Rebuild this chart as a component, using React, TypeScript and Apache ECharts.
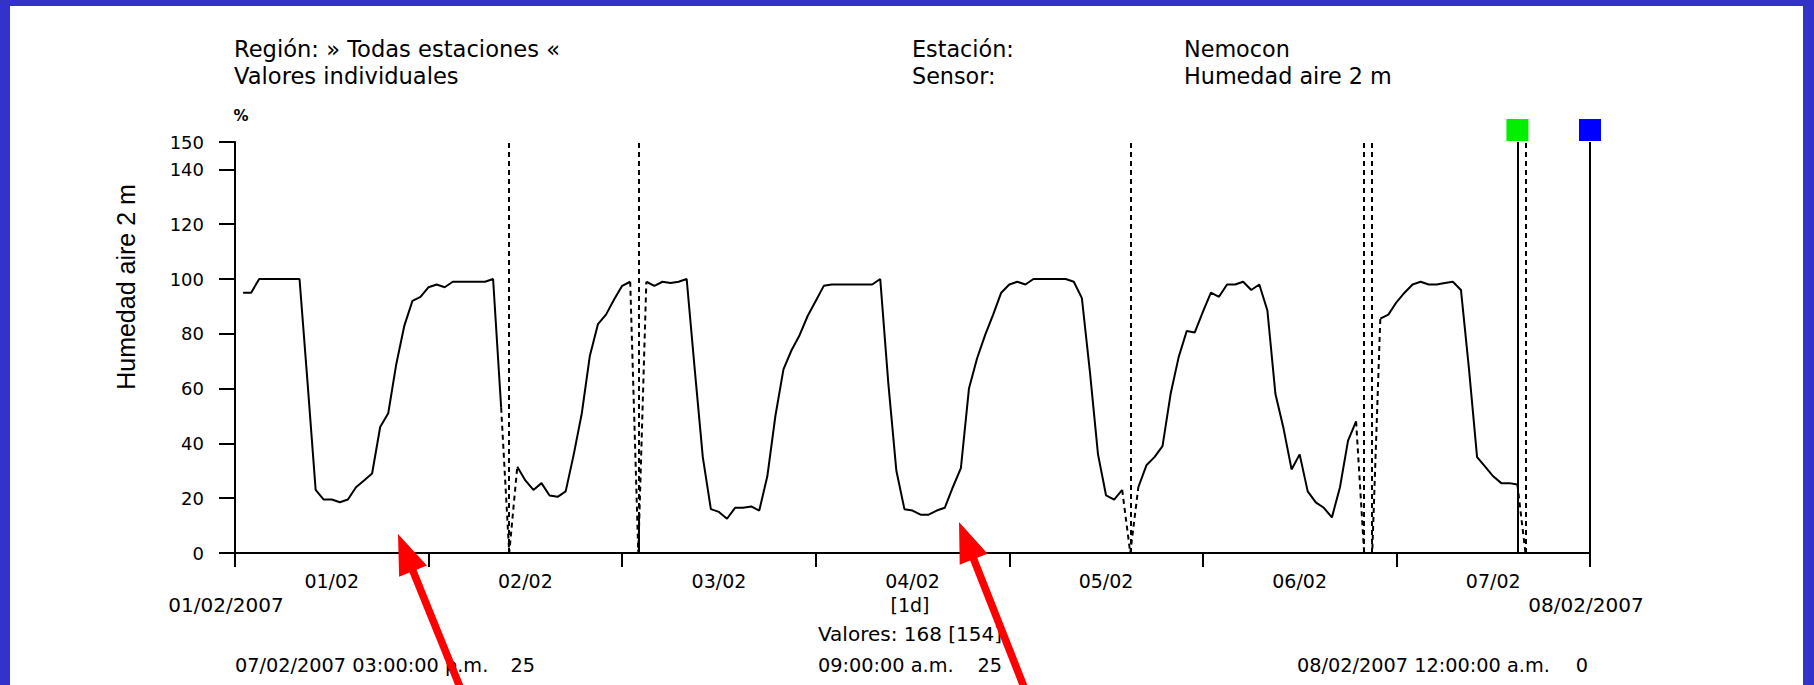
import React, { useEffect, useRef } from "react";
import * as echarts from "echarts";

// ---------- data ----------
const dayLabels = ["01/02", "02/02", "03/02", "04/02", "05/02", "06/02", "07/02"];

// hourly relative humidity, hour 1 (01/02 01:00) .. hour 168 (08/02 00:00); null = missing
const humidity: (number | null)[] = [
  95, 95, 100, 100, 100, 100, 100, 100,
  62, 23, 19.5, 19.5, 18.5, 19.5, 24, 26.5,
  29, 46, 51, 69, 83, 92, 93.5, 97,
  98, 97, 99, 99, 99, 99, 99, 100,
  53, null, 31.5, 26.5, 23, 25.5, 21, 20.5,
  22.5, 36, 51, 72, 83.5, 87, 92.5, 97.5,
  99, null, 99, 97.5, 99, 98.5, 99, 100,
  67, 35, 16, 15, 12.5, 16.5, 16.5, 17,
  15.5, 28, 50, 67, 74, 79.5, 86.5, 92,
  97.5, 98, 98, 98, 98, 98, 98, 100,
  62, 30, 16, 15.5, 14, 14, 15.5, 16.5,
  24, 31, 60, 71, 79.5, 87, 95, 98,
  99, 98, 100, 100, 100, 100, 100, 99,
  93, 66, 36, 21, 19.5, 23, null, 24,
  32, 35, 39, 58, 71.5, 81, 80.5, 88,
  95, 93.5, 98, 98, 99, 96, 98, 88.5,
  58, 45.5, 30.5, 36, 22.5, 18.5, 16.5, 13,
  24, 41, 48, null, null, 85.5, 87, 91.5,
  95, 98, 99, 98, 98, 98.5, 99, 96,
  67, 35, 31.5, 28, 25.5, 25.5, 25, null,
  null, null, null, null, null, null, null, null,
];

// missing hours that the original marks with dashed verticals
const gapHours = [34, 50, 111, 140, 141, 160];
const gapStub = { hour: 50, value: 13 };

const cursorA = { hour: 159, value: 25, stamp: "07/02/2007 03:00:00 p.m.", color: "#00f000" };
const cursorB = { hour: 168, value: 0, stamp: "08/02/2007 12:00:00 a.m.", color: "#0000ff" };
const cursorDiff = { stamp: "09:00:00 a.m.", value: 25 };

const yMin = 0;
const yMax = 150;
const yInterval = 20;
const xMin = 0;
const xMax = 168;
const xInterval = 24;

const headerLeft = ["Región: » Todas estaciones «", "Valores individuales"];
const headerMidKeys = ["Estación:", "Sensor:"];
const headerMidVals = ["Nemocon", "Humedad aire 2 m"];
const yName = "Humedad aire 2 m";
const unit = "%";
const startDate = "01/02/2007";
const endDate = "08/02/2007";
const stepLabel = "[1d]";

// ---------- helpers ----------
function arrowPoints(tip: number[], tail: number[], headLen: number, headHalf: number, shaftHalf: number) {
  const dx = tail[0] - tip[0];
  const dy = tail[1] - tip[1];
  const len = Math.sqrt(dx * dx + dy * dy);
  const ux = dx / len, uy = dy / len;
  const nx = -uy, ny = ux;
  const bx = tip[0] + ux * headLen, by = tip[1] + uy * headLen;
  return [
    [tip[0], tip[1]],
    [bx - nx * headHalf, by - ny * headHalf],
    [bx - nx * shaftHalf, by - ny * shaftHalf],
    [tail[0] - nx * shaftHalf, tail[1] - ny * shaftHalf],
    [tail[0] + nx * shaftHalf, tail[1] + ny * shaftHalf],
    [bx + nx * shaftHalf, by + ny * shaftHalf],
    [bx + nx * headHalf, by + ny * headHalf],
  ];
}

const PIX = '"DejaVu Sans", sans-serif';
const ARIAL = '"Liberation Sans", Arial, sans-serif';

function txt(text: string, x: number, y: number, size: number, align = "left", family = PIX, weight = "normal") {
  return {
    type: "text",
    x,
    y,
    z: 50,
    silent: true,
    style: {
      text,
      font: `${weight} ${size}px ${family}`,
      fill: "#000",
      align,
      verticalAlign: "middle",
      textAlign: align,
      textVerticalAlign: "middle",
    },
  };
}

export default function App() {
  const ref = useRef<HTMLDivElement>(null);

  useEffect(() => {
    if (!ref.current) return;
    const chart = echarts.init(ref.current, undefined, { renderer: "svg" });

    const solidData = humidity.map((v, i) => [i + 1, v === null ? "-" : v]);

    const isGap = (h: number) => gapHours.indexOf(h) >= 0;
    const dashedData = humidity.map((v, i) => {
      const h = i + 1;
      if (isGap(h)) return [h, 0];
      if (v !== null && (isGap(h - 1) || isGap(h + 1))) return [h, v];
      return [h, "-"];
    });

    const validCount = humidity.filter((v) => v !== null).length;

    const blue = "#3333cc";

    const option: any = {
      animation: false,
      backgroundColor: "#ffffff",
      grid: { left: 235, right: 224, top: 142, bottom: 132, containLabel: false },
      xAxis: [
        {
          type: "value",
          min: xMin,
          max: xMax,
          interval: xInterval,
          axisLine: { show: true, onZero: false, lineStyle: { color: "#000", width: 2 } },
          axisTick: { show: true, length: 14, lineStyle: { color: "#000", width: 2 } },
          axisLabel: { show: false },
          splitLine: { show: false },
        },
        {
          type: "category",
          data: dayLabels,
          boundaryGap: true,
          position: "bottom",
          axisLine: { show: false },
          axisTick: { show: false },
          axisLabel: { show: true, margin: 18, color: "#000", fontFamily: PIX, fontSize: 19 },
          splitLine: { show: false },
        },
      ],
      yAxis: {
        type: "value",
        min: yMin,
        max: yMax,
        interval: yInterval,
        axisLine: { show: true, lineStyle: { color: "#000", width: 2 } },
        axisTick: { show: true, length: 16, lineStyle: { color: "#000", width: 2 } },
        axisLabel: { color: "#000", fontFamily: PIX, fontSize: 18, margin: 31 },
        splitLine: { show: false },
      },
      series: [
        {
          type: "line",
          xAxisIndex: 0,
          data: dashedData,
          showSymbol: false,
          connectNulls: false,
          silent: true,
          lineStyle: { color: "#000", width: 2, type: [5, 4] },
          z: 3,
          markLine: {
            silent: true,
            symbol: ["none", "none"],
            label: { show: false },
            lineStyle: { color: "#000", width: 2, type: [5, 4] },
            data: gapHours.map((h) => [{ coord: [h, yMin] }, { coord: [h, yMax] }]),
          },
        },
        {
          type: "line",
          xAxisIndex: 0,
          data: solidData,
          showSymbol: false,
          connectNulls: false,
          silent: true,
          lineStyle: { color: "#000", width: 2 },
          z: 4,
          markLine: {
            silent: true,
            symbol: ["none", "none"],
            label: { show: false },
            lineStyle: { color: "#000", width: 2, type: "solid" },
            data: [
              [{ coord: [cursorA.hour, yMin] }, { coord: [cursorA.hour, yMax] }],
              [{ coord: [cursorB.hour, yMin] }, { coord: [cursorB.hour, yMax] }],
              [{ coord: [gapStub.hour, yMin] }, { coord: [gapStub.hour, gapStub.value] }],
            ],
          },
          markPoint: {
            silent: true,
            label: { show: false },
            data: [
              { coord: [cursorA.hour, yMax], symbol: "rect", symbolSize: 22, symbolOffset: [0, -12], itemStyle: { color: cursorA.color } },
              { coord: [cursorB.hour, yMax], symbol: "rect", symbolSize: 22, symbolOffset: [0, -12], itemStyle: { color: cursorB.color } },
            ],
          },
        },
      ],
      graphic: [
        // page frame
        { type: "rect", z: 100, silent: true, shape: { x: 0, y: 0, width: 10, height: 685 }, style: { fill: blue } },
        { type: "rect", z: 100, silent: true, shape: { x: 0, y: 0, width: 1814, height: 6 }, style: { fill: blue } },
        { type: "rect", z: 100, silent: true, shape: { x: 1803, y: 0, width: 11, height: 685 }, style: { fill: blue } },
        // header
        txt(headerLeft[0], 234, 49, 22.6),
        txt(headerLeft[1], 234, 76, 22.6),
        txt(headerMidKeys[0], 912, 49, 22.3),
        txt(headerMidKeys[1], 912, 76, 22.3),
        txt(headerMidVals[0], 1184, 49, 22.3),
        txt(headerMidVals[1], 1184, 76, 22.3),
        txt(unit, 241, 116, 15, "center", PIX, "bold"),
        {
          type: "text",
          x: 126,
          y: 287,
          rotation: Math.PI / 2,
          z: 50,
          silent: true,
          style: {
            text: yName,
            font: `normal 25px ${ARIAL}`,
            fill: "#000",
            align: "center",
            verticalAlign: "middle",
            textAlign: "center",
            textVerticalAlign: "middle",
          },
        },
        // below axis
        txt(startDate, 226, 605, 20, "center"),
        txt(stepLabel, 910, 605, 19, "center"),
        txt(endDate, 1586, 605, 20, "center"),
        txt(`Valores: ${humidity.length} [${validCount}]`, 910, 634, 20, "center"),
        txt(cursorA.stamp, 235, 665, 19.3),
        txt(String(cursorA.value), 535, 665, 19.3, "right"),
        txt(cursorDiff.stamp, 818, 665, 19.3),
        txt(String(cursorDiff.value), 1002, 665, 19.3, "right"),
        txt(cursorB.stamp, 1297, 665, 19.3),
        txt(String(cursorB.value), 1588, 665, 19.3, "right"),
        // red annotation arrows
        { type: "polygon", z: 120, silent: true, shape: { points: arrowPoints([398, 534], [462, 692], 40, 15, 3.8) }, style: { fill: "#ff0000" } },
        { type: "polygon", z: 120, silent: true, shape: { points: arrowPoints([959, 522], [1026, 692], 40, 15, 3.8) }, style: { fill: "#ff0000" } },
      ],
    };

    chart.setOption(option);
    return () => chart.dispose();
  }, []);

  return (
    <div
      ref={ref}
      style={{ position: "fixed", left: 0, top: 0, width: 1814, height: 685, background: "#fff" }}
    />
  );
}
